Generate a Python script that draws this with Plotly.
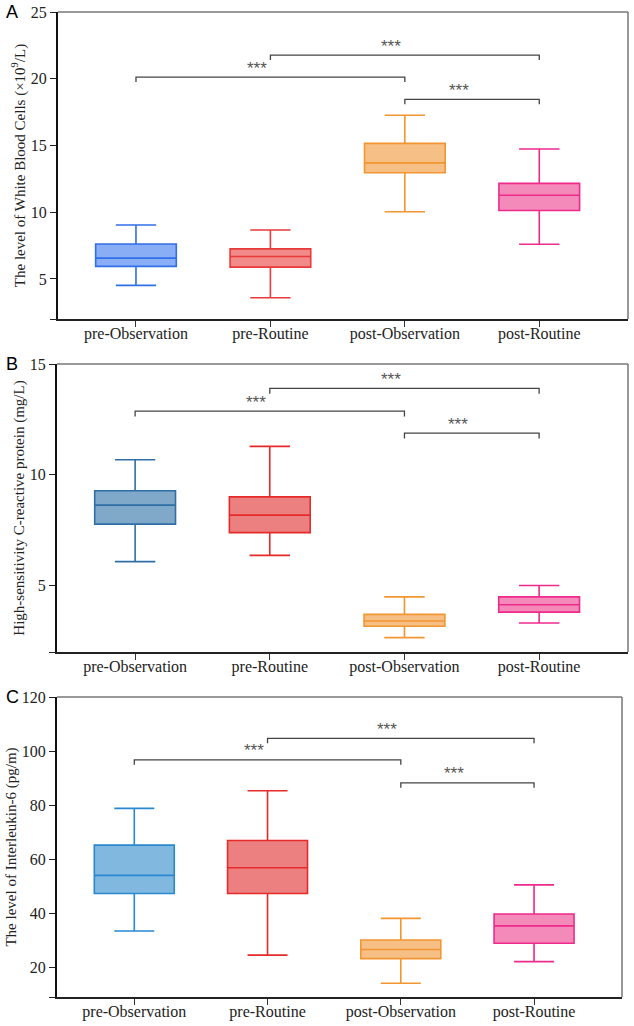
import plotly.graph_objects as go

# categories shared by all three panels
groups = ['pre-Observation', 'pre-Routine', 'post-Observation', 'post-Routine']

# panel A: white blood cells (x10^9/L)
wbc_low = [4.52, 3.59, 10.03, 7.60]
wbc_q1 = [5.94, 5.89, 12.96, 10.13]
wbc_med = [6.56, 6.68, 13.70, 11.27]
wbc_q3 = [7.62, 7.25, 15.16, 12.16]
wbc_high = [9.04, 8.67, 17.27, 14.74]

# panel B: hs-CRP (mg/L)
crp_low = [6.08, 6.36, 2.65, 3.31]
crp_q1 = [7.77, 7.39, 3.16, 3.80]
crp_med = [8.63, 8.18, 3.40, 4.13]
crp_q3 = [9.28, 9.00, 3.70, 4.49]
crp_high = [10.68, 11.28, 4.49, 5.00]

# panel C: IL-6 (pg/m)
il6_low = [33.4, 24.5, 14.1, 22.1]
il6_q1 = [47.3, 47.3, 23.2, 28.9]
il6_med = [54.0, 56.8, 26.6, 35.3]
il6_q3 = [65.2, 66.9, 30.1, 39.7]
il6_high = [78.8, 85.3, 38.1, 50.5]

# significance brackets: (from, to, height) per panel
wbc_brackets = [(0, 2, 20.12), (1, 3, 21.77), (2, 3, 18.46)]
crp_brackets = [(0, 2, 12.87), (1, 3, 13.90), (2, 3, 11.88)]
il6_brackets = [(0, 2, 96.7), (1, 3, 104.7), (2, 3, 88.2)]

wbc_ticks = [5, 10, 15, 20, 25]
crp_ticks = [5, 10, 15]
il6_ticks = [20, 40, 60, 80, 100, 120]

line_colors = [
    ['#2f6fe8', '#e83a3a', '#f39530', '#ee2a8a'],
    ['#2f6fa6', '#e62a2a', '#f39530', '#ee2a8a'],
    ['#2a88d0', '#e62a2a', '#f39530', '#ee2a8a'],
]
fill_colors = [
    ['#8aaef5', '#f28a8a', '#f6bf85', '#f48aba'],
    ['#80a8c8', '#ec8080', '#f6bf85', '#f48aba'],
    ['#80b8e0', '#ec8080', '#f6bf85', '#f48aba'],
]

W, H = 634, 1026


def px_dom_x(a, b):
    return [a / W, b / W]


def px_dom_y(top, bottom):
    return [1 - bottom / H, 1 - top / H]


panels = [
    dict(stats=(wbc_low, wbc_q1, wbc_med, wbc_q3, wbc_high), br=wbc_brackets,
         ticks=wbc_ticks, yrange=[2, 25], tick_drop=0.37,
         title='The level of White Blood Cells (×10<sup>9</sup>/L)',
         xdom=px_dom_x(58, 628), ydom=px_dom_y(12, 319), letter='A', ly=12),
    dict(stats=(crp_low, crp_q1, crp_med, crp_q3, crp_high), br=crp_brackets,
         ticks=crp_ticks, yrange=[2, 15], tick_drop=0.24,
         title='High-sensitivity C-reactive protein (mg/L)',
         xdom=px_dom_x(57, 628), ydom=px_dom_y(364, 652), letter='B', ly=364),
    dict(stats=(il6_low, il6_q1, il6_med, il6_q3, il6_high), br=il6_brackets,
         ticks=il6_ticks, yrange=[9, 120], tick_drop=1.8,
         title='The level of Interleukin-6 (pg/m)',
         xdom=px_dom_x(57, 622), ydom=px_dom_y(697, 997), letter='C', ly=697),
]

fig = go.Figure()
serif = 'Liberation Serif, Times New Roman, serif'

for i, p in enumerate(panels):
    n = '' if i == 0 else str(i + 1)
    xa, ya = 'x' + n, 'y' + n
    low, q1, med, q3, high = p['stats']
    for k in range(len(groups)):
        fig.add_trace(go.Box(
            x=[k], q1=[q1[k]], median=[med[k]], q3=[q3[k]],
            lowerfence=[low[k]], upperfence=[high[k]],
            width=0.6, whiskerwidth=0.5,
            fillcolor=fill_colors[i][k],
            line=dict(color=line_colors[i][k], width=1.6),
            boxpoints=False, showlegend=False, hoverinfo='skip',
            xaxis=xa, yaxis=ya,
        ))
    for a, b, h in p['br']:
        d = p['tick_drop']
        fig.add_shape(type='path', xref=xa, yref=ya,
                      path=f'M {a},{h - d} L {a},{h} L {b},{h} L {b},{h - d}',
                      line=dict(color='#444444', width=1.3))
        fig.add_annotation(x=(a + b) / 2 - 0.1, y=h, xref=xa, yref=ya,
                           text='***', showarrow=False, yanchor='middle', yshift=9,
                           font=dict(family='Liberation Sans, Arial', size=17, color='#555555'))
    # top and right frame in grey
    fig.add_shape(type='line', xref=xa + ' domain', yref=ya + ' domain',
                  x0=0, x1=1, y0=1, y1=1, line=dict(color='#777777', width=1.5))
    fig.add_shape(type='line', xref=xa + ' domain', yref=ya + ' domain',
                  x0=1, x1=1, y0=0, y1=1, line=dict(color='#777777', width=1.5))
    fig.add_annotation(x=4 / W, y=1 - p['ly'] / H, xref='paper', yref='paper',
                       text=p['letter'], showarrow=False, xanchor='left', yanchor='middle',
                       font=dict(family='Liberation Sans, Arial', size=18, color='black'))

    tv = [p['yrange'][0]] + p['ticks']
    tt = [''] + [str(t) for t in p['ticks']]
    fig.update_layout({
        'xaxis' + n: dict(domain=p['xdom'], range=[-0.58, 3.66], anchor=ya,
                          tickvals=list(range(len(groups))), ticktext=groups,
                          ticks='outside', ticklen=6, tickwidth=1.3, tickcolor='#333333',
                          ticklabelstandoff=-7,
                          showline=True, linecolor='#222222', linewidth=2,
                          showgrid=False, zeroline=False, fixedrange=True, automargin=False,
                          tickfont=dict(family=serif, size=16, color='#222222')),
        'yaxis' + n: dict(domain=p['ydom'], range=p['yrange'], anchor=xa,
                          tickvals=tv, ticktext=tt, ticklabeloverflow='allow',
                          ticks='outside', ticklen=6, tickwidth=1.3, tickcolor='#222222',
                          showline=True, linecolor='#111111', linewidth=2,
                          showgrid=False, zeroline=False, fixedrange=True, automargin=False,
                          tickfont=dict(family=serif, size=16, color='#222222'),
                          title=dict(text=p['title'], standoff=2,
                                     font=dict(family=serif, size=15, color='#222222'))),
    })

fig.update_layout(
    width=W, height=H,
    margin=dict(l=0, r=0, t=0, b=0),
    paper_bgcolor='white', plot_bgcolor='white',
    showlegend=False,
)

# drop the default 8px body margin so the figure fills the window
fig.write_html('out.html', config={'displayModeBar': False},
               post_script="document.body.style.margin='0';")
